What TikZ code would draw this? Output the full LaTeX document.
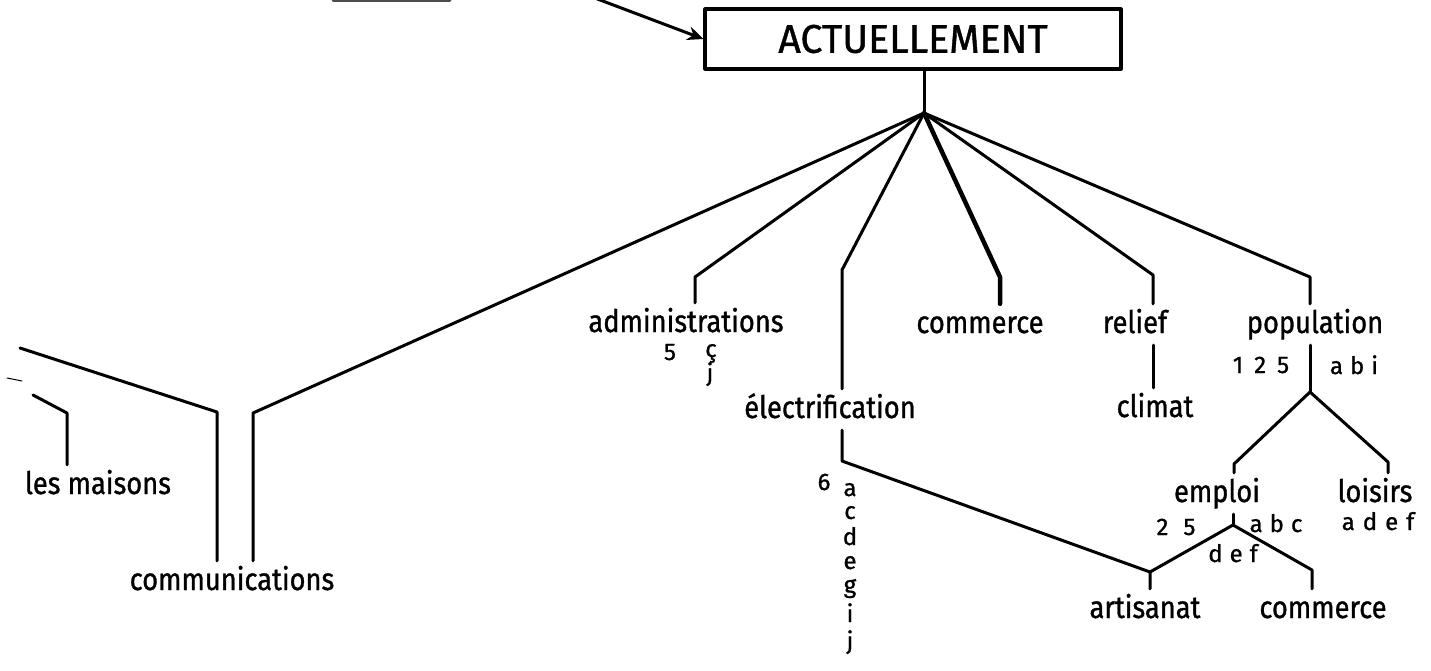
\documentclass[tikz,border=0pt]{standalone}
\usepackage{fontspec}
\setmainfont{Fira Sans}
\newfontfamily\handfont[FakeStretch=0.88,FakeBold=1]{Fira Sans}
\newfontfamily\capsfont[FakeStretch=0.98,FakeBold=1]{Fira Sans}
\newfontfamily\annfont[FakeBold=1]{Fira Sans}
\newcommand\annsp[1]{\hspace{#1pt}}
\usetikzlibrary{arrows.meta}
\begin{document}
\begin{tikzpicture}[x=1pt,y=-1pt,line cap=round,line join=round,
  conn/.style={line width=3pt},
  thickconn/.style={line width=4.5pt},
  lbl/.style={font=\handfont\fontsize{31}{31}\selectfont,anchor=base,text height=24pt,text depth=7pt,inner sep=5pt},
  ann/.style={font=\annfont\fontsize{24}{24}\selectfont,anchor=base,inner sep=0pt}]
\fill[white] (0,0) rectangle (1431,670);
\useasboundingbox (0,0) rectangle (1431,670);

% title box and incoming arrow
\node[draw,line width=3.2pt,minimum width=416pt,minimum height=60pt,inner sep=0pt,
      font=\capsfont\fontsize{40}{40}\selectfont] (act) at (913,39) {ACTUELLEMENT};
\coordinate (arrs) at (571,-11);
\draw[conn,-{Stealth[length=16pt,width=14pt]}] (arrs) -- (act.west);
\draw[line width=2.5pt,black!70] (333,0.5) -- (450,0.5);

\coordinate (hub) at (924,113);
\draw[conn] (hub |- act.south) -- (hub);

% text nodes
\node[lbl] (maisons) at (98,494) {les maisons};
\node[lbl] (comm) at (232,590) {communications};
\node[lbl] (adm) at (686,332) {administrations};
\node[lbl] (ele) at (830,418) {électrification};
\node[lbl] (com) at (980,333) {commerce};
\node[lbl] (rel) at (1135,333) {relief};
\node[lbl] (cli) at (1155,417) {climat};
\node[lbl] (pop) at (1315,333) {population};
\node[lbl] (emp) at (1217,502) {emploi};
\node[lbl] (lois) at (1375,502) {loisirs};
\node[lbl] (art) at (1145,618) {artisanat};
\node[lbl] (comb) at (1323,618) {commerce};

% annotations
\node[ann] (n5) at (670,360) {5};
\node[ann] (nc) at (711,357) {ç};
\node[ann] (nj) at (710,381) {j};
\node[ann] (n6) at (824,490) {6};
\foreach \t/\yy [count=\i] in {a/496,c/519,d/545,e/569,g/593,i/622,j/649}
  \node[ann] (el\i) at (850,\yy) {\t};
\node[ann] (p125) at (1261,373) {1\annsp{11}2\annsp{11}5};
\node[ann] (pabi) at (1354,374) {a\annsp{7}b\annsp{7}i};
\node[ann] (e25) at (1176,535) {2\annsp{15}5};
\node[ann] (eabc) at (1276,532) {a\annsp{7}b\annsp{7}c};
\node[ann] (edef) at (1233,562) {d\annsp{7}e\annsp{7}f};
\node[ann] (ladef) at (1378,530) {a\annsp{8}d\annsp{8}e\annsp{8}f};

% knees
\coordinate (kcomm) at (253,413);
\coordinate (kadm) at (695,277);
\coordinate (kele) at (842,270);
\coordinate (kcom) at (1000,277);
\coordinate (krel) at (1153,275);
\coordinate (kpop) at (1310,277);
\coordinate (fpop) at (1310,392);
\coordinate (kemp) at (1234,464);
\coordinate (klois) at (1388,462);
\coordinate (femp) at (1233,525);
\coordinate (kart) at (1150,572);
\coordinate (kcomb) at (1312,570);
\coordinate (kele2) at (842,461);

% fragments of the neighbouring tree (left edge)
\coordinate (la) at (20,348);
\coordinate (lb) at (217,412);
\coordinate (ma) at (33,395);
\coordinate (mb) at (67,413);
\coordinate (da) at (7,378);
\coordinate (db) at (22,381);
\draw[conn] (la) -- (lb) -- (lb |- comm.north);
\draw[conn] (ma) -- (mb) -- (mb |- maisons.north);
\draw[line width=1pt] (da) -- (db);

% branches from the hub
\draw[conn] (hub) -- (kcomm) -- (kcomm |- comm.north);
\draw[conn] (hub) -- (kadm) -- (kadm |- adm.north);
\draw[conn] (hub) -- (kele) -- (kele |- ele.north);
\draw[thickconn] (hub) -- (kcom) -- (kcom |- com.north);
\draw[conn] (hub) -- (krel) -- (krel |- rel.north);
\draw[conn] (hub) -- (kpop) -- (kpop |- pop.north);

\draw[conn] (krel |- rel.south) -- (krel |- cli.north);
\draw[conn] (kele |- ele.south) -- (kele2) -- (kart);
\draw[conn] (kpop |- pop.south) -- (fpop);
\draw[conn] (fpop) -- (kemp) -- (kemp |- emp.north);
\draw[conn] (fpop) -- (klois) -- (klois |- lois.north);
\draw[conn] (femp |- emp.south) -- (femp);
\draw[conn] (femp) -- (kart) -- (kart |- art.north);
\draw[conn] (femp) -- (kcomb) -- (kcomb |- comb.north);
\end{tikzpicture}
\end{document}
